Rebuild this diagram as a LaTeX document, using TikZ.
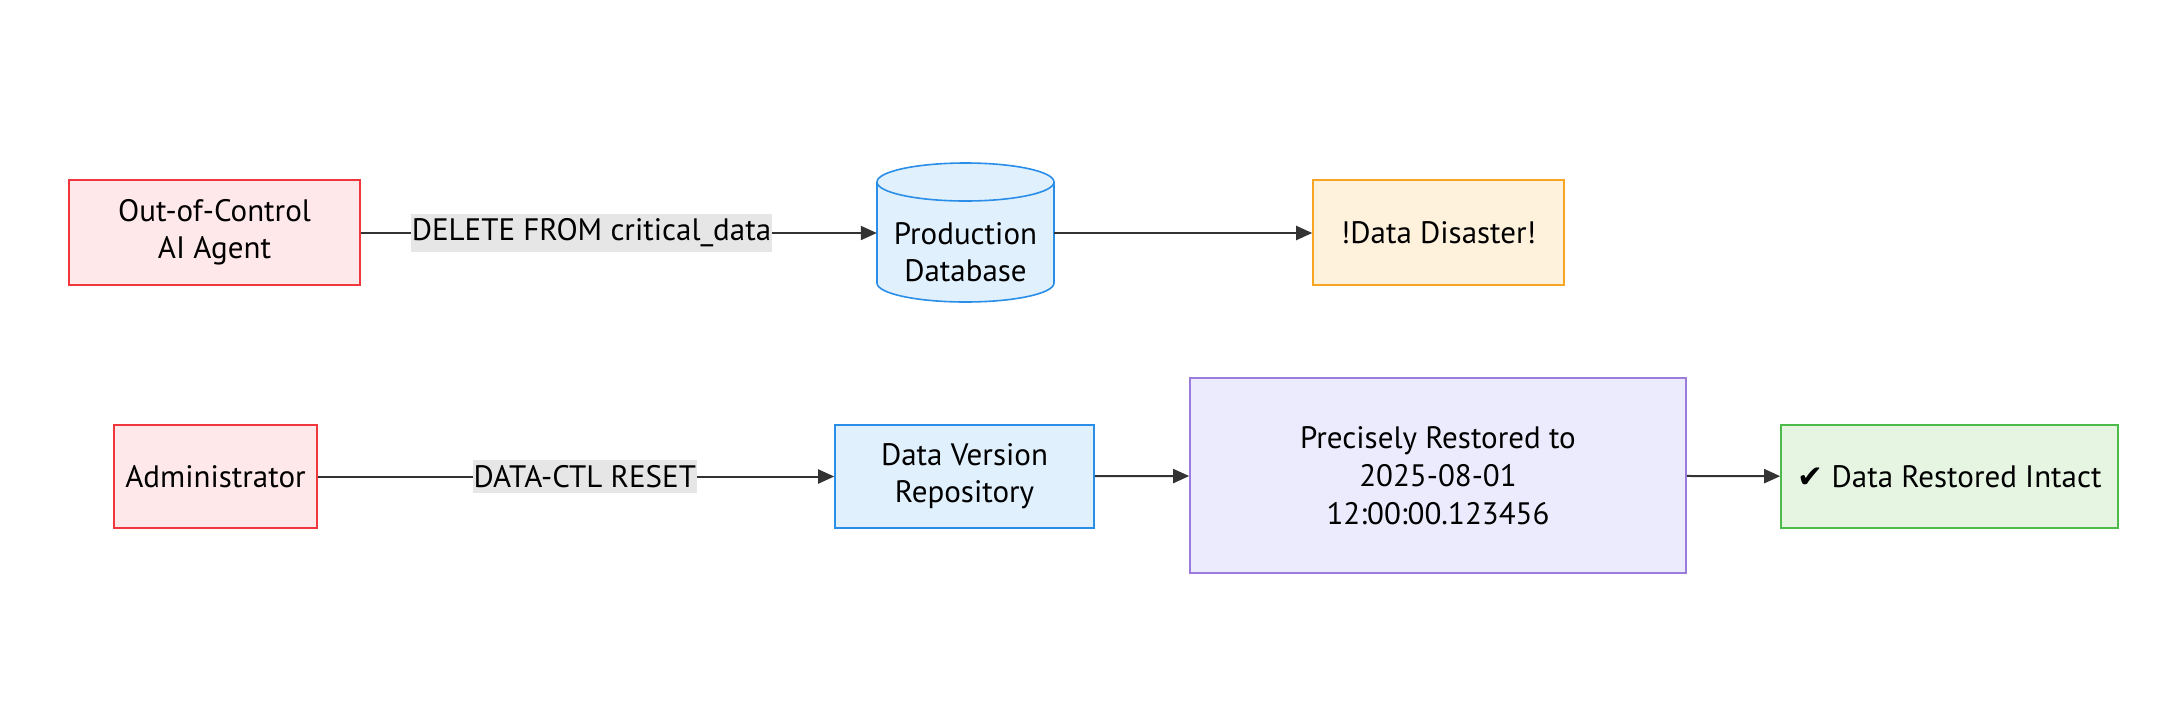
\documentclass[tikz,border=0pt]{standalone}
\usepackage{fontspec}
\setmainfont{PT Sans}
\newfontfamily\symfont{DejaVu Sans}
\usetikzlibrary{arrows.meta}
\definecolor{redfill}{HTML}{FFE8EA}
\definecolor{reddraw}{HTML}{F0373D}
\definecolor{bluefill}{HTML}{E0F0FD}
\definecolor{bluedraw}{HTML}{2A8EE8}
\definecolor{orangefill}{HTML}{FFF2DC}
\definecolor{orangedraw}{HTML}{F6A623}
\definecolor{purplefill}{HTML}{ECEBFD}
\definecolor{purpledraw}{HTML}{9B7CDB}
\definecolor{greenfill}{HTML}{E5F5E2}
\definecolor{greendraw}{HTML}{4DBB4A}
\definecolor{lblfill}{HTML}{E6E6E6}
\definecolor{linecol}{HTML}{333333}
\tikzset{
  box/.style={draw, line width=1.6pt, align=center, inner sep=0pt, font=\fontsize{31}{37}\selectfont, text=black},
  redbox/.style={box, fill=redfill, draw=reddraw},
  bluebox/.style={box, fill=bluefill, draw=bluedraw},
  orangebox/.style={box, fill=orangefill, draw=orangedraw},
  purplebox/.style={box, fill=purplefill, draw=purpledraw},
  greenbox/.style={box, fill=greenfill, draw=greendraw},
  conn/.style={draw=linecol, line width=2pt, -{Triangle[length=16pt,width=14pt]}},
  lbl/.style={fill=lblfill, inner xsep=1pt, inner ysep=5pt, font=\fontsize{31}{34}\selectfont, text=black}
}
\begin{document}
\begin{tikzpicture}[x=1pt,y=-1pt]
\useasboundingbox[fill=white] (0,0) rectangle (2172,724);
% row 1
\node[redbox, minimum width=291pt, minimum height=105pt] (agent) at (214.5,232.5) {Out-of-Control\\AI Agent};
% cylinder
\fill[bluefill] (877,182) -- (877,283) arc[start angle=180, end angle=0, x radius=88.5, y radius=19] -- (1054,182) arc[start angle=0, end angle=-180, x radius=88.5, y radius=19] -- cycle;
\draw[bluedraw, line width=1.6pt] (877,182) -- (877,283) arc[start angle=180, end angle=0, x radius=88.5, y radius=19] -- (1054,182);
\draw[bluedraw, line width=1.6pt] (965.5,182) ellipse[x radius=88.5, y radius=19];
\node[align=center, inner sep=0pt, minimum width=177pt, minimum height=100pt, font=\fontsize{31}{37}\selectfont] (db) at (965.5,252) {Production\\Database};
\node[orangebox, minimum width=251pt, minimum height=105pt] (disaster) at (1438.5,232.5) {!Data Disaster!};
\draw[conn] (agent.east |- 0,233) -- node[lbl, pos=0.447] (l1) {DELETE FROM critical\_data} (db.west |- 0,233);
\draw[conn] (db.east |- 0,233) -- (disaster.west |- 0,233);
% row 2
\node[redbox, minimum width=203pt, minimum height=103pt] (admin) at (215.5,476.5) {Administrator};
\node[bluebox, minimum width=259pt, minimum height=103pt] (repo) at (964.5,476.5) {Data Version\\Repository};
\node[purplebox, minimum width=496pt, minimum height=195pt, font=\fontsize{31}{38}\selectfont] (restore) at (1438,475.5) {Precisely Restored to\\2025-08-01\\12:00:00.123456};
\node[greenbox, minimum width=337pt, minimum height=103pt] (intact) at (1949.5,476.5) {{\symfont ✔} Data Restored Intact};
\draw[conn] (admin) -- node[lbl, pos=0.517] (l2) {DATA-CTL RESET} (repo);
\draw[conn] (repo) -- (restore);
\draw[conn] (restore) -- (intact);
\end{tikzpicture}
\end{document}
